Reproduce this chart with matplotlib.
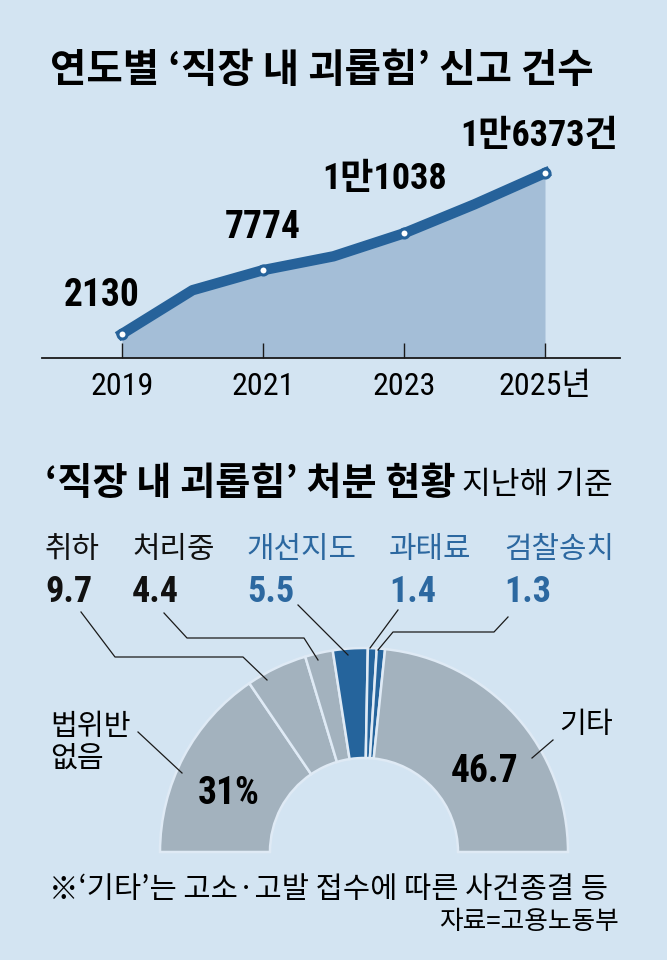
import numpy as np
import matplotlib.pyplot as plt
from matplotlib.patches import Wedge

# ---- data ----
years = [2019, 2020, 2021, 2022, 2023, 2024, 2025]
reports = [2130, 6000, 7774, 9000, 11038, 13600, 16373]
marked_years = [2019, 2021, 2023, 2025]
marked_reports = [2130, 7774, 11038, 16373]
marked_labels = ['2130', '7774', '1만1038', '1만6373건']
tick_labels = ['2019', '2021', '2023', '2025년']

cats = ['법위반\n없음', '취하', '처리중', '개선지도', '과태료', '검찰송치', '기타']
shares = [31, 9.7, 4.4, 5.5, 1.4, 1.3, 46.7]
share_labels = ['31%', '9.7', '4.4', '5.5', '1.4', '1.3', '46.7']

# ---- style ----
bg = '#d3e4f2'
area_c = '#a4bed7'
line_c = '#26629a'
gray_c = '#a3b2be'
blue_c = '#25649c'
blue_txt = '#2c68a0'
KR = ['Noto Sans CJK KR', 'DejaVu Sans']
NUM = ['Roboto Condensed', 'Noto Sans CJK KR', 'DejaVu Sans']

plt.rcParams['font.family'] = KR

W, H = 667, 960
def fx(px):
    return px / W
def fy(py):
    return 1 - py / H

fig = plt.figure(figsize=(6.67, 9.6), dpi=100)
fig.patch.set_facecolor(bg)

def ftext(px, py, s, **kw):
    return fig.text(fx(px), fy(py), s, **kw)

# titles
ftext(322, 71, '연도별 ‘직장 내 괴롭힘’ 신고 건수', ha='center', va='center',
      fontsize=28.5, weight='bold')

# ---- top: area chart ----
ppy = (545 - 122) / 6.0      # px per year
ppv = 0.0113                 # px per report
ax1 = fig.add_axes([fx(42), fy(358), fx(620) - fx(42), fy(110) - fy(358)])
ax1.set_facecolor('none')
ax1.set_xlim(2019 - 80 / ppy, 2025 + 75 / ppy)
ax1.set_ylim(0, (358 - 110) / ppv)
ax1.fill_between(years, reports, color=area_c, lw=0, zorder=1)
ax1.plot(years, reports, color=line_c, lw=7.5, zorder=3)
ax1.plot(marked_years, marked_reports, 'o', ms=6.5, mfc='white', mec=line_c,
         mew=2.2, zorder=4)
for s in ['left', 'top', 'right']:
    ax1.spines[s].set_visible(False)
ax1.spines['bottom'].set_linewidth(1.3)
ax1.spines['bottom'].set_color('#1a1a1a')
ax1.set_yticks([])
ax1.set_xticks(marked_years, tick_labels)
ax1.tick_params(axis='x', direction='in', length=10.5, width=1, color='#1a1a1a',
                pad=10, labelsize=23)
for lbl in ax1.get_xticklabels():
    lbl.set_family(NUM)

label_offsets = [(-20, 38), (0, 43), (-19, 54), (-6, 37)]
label_sizes = [27, 27, 26, 26]
for x, y, s, off, fs in zip(marked_years, marked_reports, marked_labels,
                            label_offsets, label_sizes):
    ax1.annotate(s, (x, y), xytext=off, textcoords='offset pixels', ha='center',
                 va='center', fontsize=fs, weight='bold', family=NUM)

# ---- bottom: half donut ----
ftext(45, 483, '‘직장 내 괴롭힘’ 처분 현황', ha='left', va='center',
      fontsize=27.5, weight='bold')
ftext(462, 485, '지난해 기준', ha='left', va='center', fontsize=22.5)

R = 204.0
cx, cy = 364, 852
ax2 = fig.add_axes([0, 0, 1, fy(500)])
ax2.set_xlim(-cx / R, (W - cx) / R)
ax2.set_ylim((cy - H) / R, (cy - 500) / R)
ax2.axis('off')

colors = [gray_c, gray_c, gray_c, blue_c, blue_c, blue_c, gray_c]
theta = 180.0
for s, c in zip(shares, colors):
    span = s / 100.0 * 180.0
    ax2.add_patch(Wedge((0, 0), 1, theta - span, theta, width=(R - 94) / R,
                        fc=c, ec='#dfeaf5', lw=1.8))
    theta -= span

# small-category labels
top_x = [45, 132, 247, 389, 504]
top_c = ['#111111', '#111111', blue_txt, blue_txt, blue_txt]
for i in range(5):
    ftext(top_x[i], 549, cats[i + 1], ha='left', va='center', fontsize=21.5,
          color=top_c[i])
    ftext(top_x[i], 592, share_labels[i + 1], ha='left', va='center',
          fontsize=26, weight='bold', family=NUM, color=top_c[i])

def P(px, py):
    return ((px - cx) / R, (cy - py) / R)

leaders = [
    [(81, 612), (115, 657), (243, 657), (267, 680)],
    [(164, 613), (187, 638), (304, 638), (318, 660)],
    [(298, 605), (348, 655)],
    [(398, 610), (370, 648)],
    [(508, 617), (494, 632), (393, 632), (378, 650)],
    [(138, 732), (182, 773)],
    [(553, 740), (532, 758)],
]
for pts in leaders:
    xy = np.array([P(*p) for p in pts])
    ax2.plot(xy[:, 0], xy[:, 1], color='#1a1a1a', lw=0.9, zorder=5)

ftext(50, 743, cats[0], ha='left', va='center', fontsize=21, linespacing=1.1)
ftext(586, 725, cats[6], ha='center', va='center', fontsize=21)
ftext(229, 793, share_labels[0], ha='center', va='center', fontsize=27,
      weight='bold', family=NUM)
ftext(485, 771, share_labels[6], ha='center', va='center', fontsize=27,
      weight='bold', family=NUM)

# footnote
ftext(49, 890, '※‘기타’는 고소·고발 접수에 따른 사건종결 등', ha='left',
      va='center', fontsize=21.3)
ftext(619, 922, '자료=고용노동부', ha='right', va='center', fontsize=18.5)

fig.savefig('out.png', dpi=100, facecolor=bg)
